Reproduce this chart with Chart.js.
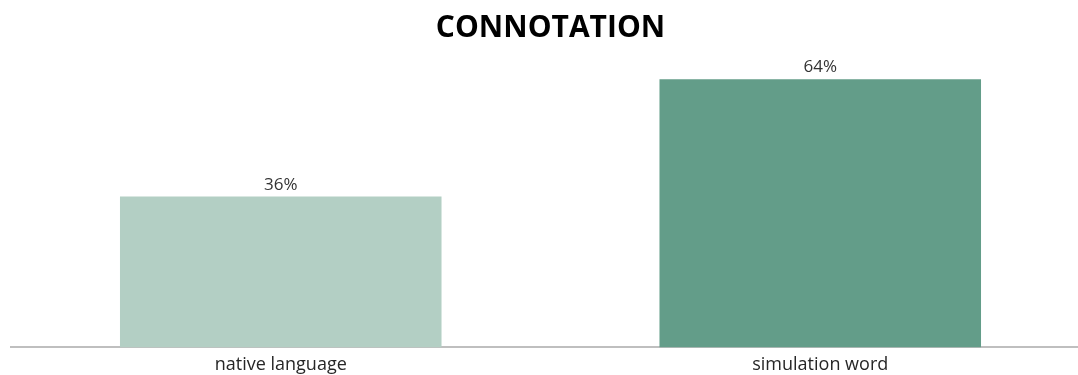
<!DOCTYPE html>
<html>
<head>
<meta charset="utf-8">
<script src="https://cdn.jsdelivr.net/npm/chart.js@4"></script>
<style>
    html, body { margin: 0; padding: 0; background: #fff; }
    #container { width: 1078px; height: 375px; overflow: hidden; position: relative; }
    #chart { display: block; }
</style>
</head>
<body>
<div id="container">
    <canvas id="chart" width="1090" height="385"></canvas>
</div>
<script>
const categories = ['native language', 'simulation word'];
const percentages = [36, 64];
const barColors = ['#b3cfc4', '#639d89'];
const titleText = 'CONNOTATION';

// percent labels sitting just above each bar
const valueLabels = {
    id: 'valueLabels',
    afterDatasetsDraw(chart) {
        const ctx = chart.ctx;
        const meta = chart.getDatasetMeta(0);
        ctx.save();
        ctx.font = '17px "Open Sans"';
        ctx.fillStyle = '#333333';
        ctx.textAlign = 'center';
        ctx.textBaseline = 'bottom';
        meta.data.forEach((bar, i) => {
            ctx.fillText(percentages[i] + '%', bar.x, bar.y - 3);
        });
        ctx.restore();
    }
};

const ctx = document.getElementById('chart').getContext('2d');
const chart = new Chart(ctx, {
    type: 'bar',
    data: {
        labels: categories,
        datasets: [{
            data: percentages,
            backgroundColor: barColors,
            borderWidth: 0,
            barPercentage: 0.596,
            categoryPercentage: 1
        }]
    },
    options: {
        responsive: false,
        animation: false,
        layout: {
            padding: { left: 11, right: 0, top: 0, bottom: 2 }
        },
        plugins: {
            legend: { display: false },
            tooltip: { enabled: false },
            title: {
                display: true,
                text: titleText,
                color: '#000000',
                font: { family: '"Open Sans"', size: 30, weight: 'bold' },
                padding: { top: 10, bottom: 8 }
            }
        },
        scales: {
            x: {
                grid: { display: false, drawTicks: false },
                border: { display: true, color: '#bfbfbf', width: 2 },
                ticks: {
                    color: '#262626',
                    padding: 7,
                    font: { family: '"Open Sans"', size: 18 }
                }
            },
            y: {
                display: false,
                min: 0,
                max: 70
            }
        }
    },
    plugins: [valueLabels]
});
</script>
</body>
</html>
